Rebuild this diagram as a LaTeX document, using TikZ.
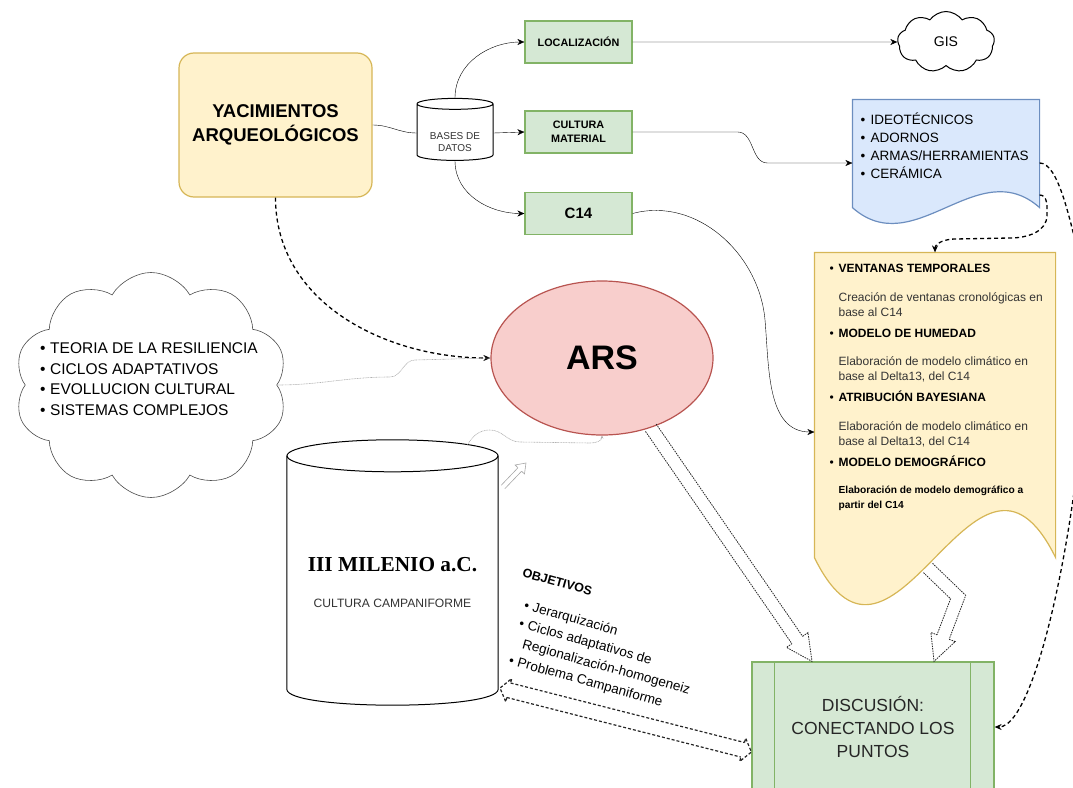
\documentclass[tikz,border=0pt]{standalone}
\usepackage{fontspec}
\setmainfont{Liberation Sans}
\newfontfamily\serifbold{Liberation Serif}
\usetikzlibrary{arrows.meta, positioning, shapes.geometric, shapes.symbols, calc}

\pgfdeclarelayer{background}
\pgfsetlayers{background,main}

\definecolor{yelfill}{HTML}{FFF2CC}
\definecolor{yelline}{HTML}{D6B656}
\definecolor{grnfill}{HTML}{D5E8D4}
\definecolor{grnline}{HTML}{82B366}
\definecolor{bluefill}{HTML}{DAE8FC}
\definecolor{blueline}{HTML}{6C8EBF}
\definecolor{redfill}{HTML}{F8CECC}
\definecolor{redline}{HTML}{B85450}

\newcommand{\ibul}[1][9pt]{\makebox[#1][l]{\textbullet}}
\newcommand{\openhead}[6][hollowline]{%
  \coordinate (hb) at ($(#3)!#4!(#2)$);
  \draw[#1] ($(hb)!#5!90:(#3)$) -- ($(hb)!#6!90:(#3)$) -- (#3)
    -- ($(hb)!#6!-90:(#3)$) -- ($(hb)!#5!-90:(#3)$);
}
\newcommand{\openshaft}[4][hollowline]{%
  \draw[#1] ($(#2)!#4!90:(#3)$) -- ($(#3)!#4!-90:(#2)$)
    ($(#2)!#4!-90:(#3)$) -- ($(#3)!#4!90:(#2)$);
}

\begin{document}
\begin{tikzpicture}[
    x=1pt, y=-1pt,
    line width=1.2pt,
    >={Stealth[length=7pt, width=6pt]},
    yacibox/.style={rectangle, rounded corners=15pt, draw=yelline, fill=yelfill,
        line width=1.2pt, minimum width=193pt, minimum height=144pt, align=center,
        font=\fontsize{18.5}{24}\selectfont\bfseries},
    greenbox/.style={rectangle, draw=grnline, fill=grnfill, line width=1.2pt,
        minimum width=107pt, minimum height=42pt, align=center,
        font=\fontsize{10.8}{14}\selectfont\bfseries},
    dbcyl/.style={cylinder, shape border rotate=90, draw, fill=white,
        line width=1pt, inner sep=1pt, align=center, text=black!80},
    docframe/.style={rectangle, inner sep=0pt},
    textlist/.style={anchor=north west, inner sep=0pt, align=left},
    dashline/.style={dash pattern=on 4pt off 3pt, line width=1.3pt},
    faint/.style={gray!60, line width=0.6pt, dash pattern=on 1pt off 0.6pt},
    hollowline/.style={black!85, line width=0.8pt, dash pattern=on 1.5pt off 1pt},
    objline/.style={black!85, line width=1.2pt, dash pattern=on 3pt off 2pt}
]

\useasboundingbox (0,0) rectangle (1073,787);

\node[yacibox] (yaci) at (275.5,125) {YACIMIENTOS\\ARQUEOLÓGICOS};
\node[dbcyl, aspect=0.21, minimum width=76pt, minimum height=62pt,
      font=\fontsize{10}{12}\selectfont] (bases) at (455,133) {\rule{0pt}{26pt}BASES DE\\DATOS};

\node[greenbox] (loc) at (578.5,42) {LOCALIZACIÓN};
\node[greenbox] (cultura) at (578.5,132) {CULTURA\\MATERIAL};
\node[greenbox, font=\fontsize{15}{18}\selectfont\bfseries] (c14) at (578.5,213.5) {C14};

\node[cloud, cloud puffs=9, cloud puff arc=110, draw, line width=1pt,
      minimum width=97pt, minimum height=61pt, font=\fontsize{14}{16}\selectfont] (gis) at (946,42) {GIS};

\node[docframe, minimum width=186pt, minimum height=126pt] (tipos) at (946,163) {};
\node[textlist, font=\fontsize{13.5}{18}\selectfont] (tiposlist) at (860,112)
    {\ibul[10pt]IDEOTÉCNICOS\\\ibul[10pt]ADORNOS\\\ibul[10pt]ARMAS/HERRAMIENTAS\\\ibul[10pt]CERÁMICA};

\node[docframe, minimum width=240pt, minimum height=358pt] (modelos) at (935,432) {};
\node[textlist, font=\fontsize{12}{15}\selectfont] (modeloslist) at (829,264) {%
    \ibul\textbf{VENTANAS TEMPORALES}\\[13.5pt]
    \hspace*{9pt}\textcolor{black!80}{Creación de ventanas cronológicas en}\\
    \hspace*{9pt}\textcolor{black!80}{base al C14}\\[6pt]
    \ibul\textbf{MODELO DE HUMEDAD}\\[13.5pt]
    \hspace*{9pt}\textcolor{black!80}{Elaboración de modelo climático en}\\
    \hspace*{9pt}\textcolor{black!80}{base al Delta13, del C14}\\[6pt]
    \ibul\textbf{ATRIBUCIÓN BAYESIANA}\\[13.5pt]
    \hspace*{9pt}\textcolor{black!80}{Elaboración de modelo climático en}\\
    \hspace*{9pt}\textcolor{black!80}{base al Delta13, del C14}\\[6pt]
    \ibul\textbf{MODELO DEMOGRÁFICO}\\[12.5pt]
    \hspace*{9pt}{\fontsize{10.2}{14}\selectfont\bfseries Elaboración de modelo demográfico a}\\[-0.5pt]
    \hspace*{9pt}{\fontsize{10.2}{14}\selectfont\bfseries partir del C14}};

\begin{pgfonlayer}{background}
\filldraw[fill=bluefill, draw=blueline, line width=1.2pt]
    (tipos.north west) -- (tipos.north east) -- ([yshift=19pt]tipos.south east)
    .. controls +(-62,-55) and +(62,55) .. ([yshift=19pt]tipos.south west) -- cycle;
\filldraw[fill=yelfill, draw=yelline, line width=1.2pt]
    (modelos.north west) -- (modelos.north east) -- ([yshift=54pt]modelos.south east)
    .. controls +(-80,-163) and +(80,163) .. ([yshift=54pt]modelos.south west) -- cycle;
\end{pgfonlayer}

\node[ellipse, draw=redline, fill=redfill, line width=1.2pt, minimum width=222pt,
      minimum height=154pt, font=\fontsize{34}{38}\selectfont\bfseries] (ars) at (602,358) {ARS};

\node[cloud, cloud puffs=10, cloud puff arc=120, draw=black!70, line width=0.6pt,
      minimum width=273pt, minimum height=225pt] (teoria) at (151,385) {};
\node[align=left, font=\fontsize{15.5}{20.5}\selectfont] (teorialist) at (149,379)
    {\ibul[10pt]TEORIA DE LA RESILIENCIA\\\ibul[10pt]CICLOS ADAPTATIVOS\\
     \ibul[10pt]EVOLLUCION CULTURAL\\\ibul[10pt]SISTEMAS COMPLEJOS};

\node[docframe, minimum width=211pt, minimum height=265pt] (milenio) at (392.5,572.5) {};
\filldraw[fill=white, line width=1pt] ([yshift=-16pt]milenio.north west) -- ([yshift=16pt]milenio.south west)
    .. controls +(0,21.3) and +(0,21.3) .. ([yshift=16pt]milenio.south east)
    -- ([yshift=-16pt]milenio.north east);
\draw[line width=1pt] ([yshift=-16pt]milenio.north) ellipse [x radius=105.5pt, y radius=16pt];
\node[font=\serifbold\fontsize{21.3}{24}\selectfont\bfseries] (miltitle) at (392.5,565) {III MILENIO a.C.};
\node[font=\fontsize{12.1}{14}\selectfont, text=black!80] (milsub) at (392.5,603) {CULTURA CAMPANIFORME};

\node[textlist, rotate=-15.5, font=\fontsize{13.5}{19}\selectfont] (objetivos) at (524,568) {%
    {\fontsize{12.5}{15}\selectfont\bfseries OBJETIVOS}\\[12pt]
    \makebox[19pt][r]{\textbullet\hspace{4pt}}Jerarquización\\
    \makebox[19pt][r]{\textbullet\hspace{4pt}}Ciclos adaptativos de\\
    \hspace*{19pt}Regionalización-homogeneiz\\
    \makebox[19pt][r]{\textbullet\hspace{4pt}}Problema Campaniforme};

\node[rectangle, draw=grnline, fill=grnfill, line width=1.2pt, minimum width=242pt,
      minimum height=130pt, align=center, text=black!85,
      font=\fontsize{17.5}{23}\selectfont] (disc) at (873,727) {DISCUSIÓN:\\CONECTANDO LOS\\PUNTOS};
\draw[grnline, line width=1.2pt] ([xshift=23pt]disc.north west) -- ([xshift=23pt]disc.south west)
    ([xshift=-24pt]disc.north east) -- ([xshift=-24pt]disc.south east);

\draw (yaci.east) to[out=0, in=180] (bases.west);
\draw[->] (bases.north) to[out=90, in=180] (loc.west);
\draw[->] (bases.east) -- (cultura.west);
\draw[->] (bases.south) to[out=-90, in=180] (c14.west);
\draw[->] (loc.east) -- (gis.west);
\draw[->] (cultura.east) -- ++(105,0) to[out=0, in=180] ++(30,31) -- (tipos.west);
\draw[->] (c14.east) to[out=15, in=95] (765,320) to[out=-85, in=180] (modelos.west);

\draw[dashline, ->] (yaci.south) to[out=-90, in=180] (ars.west);
\draw[dashline, ->] (tipos.east) .. controls (1058,163) and (1070,215) .. (1086,290) -- (1086,340)
    .. controls (1086,480) and (1040,727) .. (disc.east);
\draw[dashline, ->] ([yshift=-32pt]tipos.east) to[out=0, in=90] (1047,215) to[out=-90, in=0] (1010,238)
    -- (955,239) to[out=180, in=90] (modelos.north);

\draw[faint] (teoria.east) to[out=0, in=180] (390,377) to[out=0, in=180] (415,360) -- (ars.west);
\draw[faint, -{Stealth[length=3pt, width=3pt]}] ([xshift=75pt, yshift=-5pt]milenio.north)
    to[out=60, in=180] (490,430) to[out=0, in=180] (520,442) -- (590,443) to[out=0, in=-90] (ars.south);

% hollow arrows towards the discussion
\coordinate (s1) at (ars.-55);
\coordinate (t1) at ([xshift=-61pt]disc.north);
\openhead{s1}{t1}{26pt}{6.5pt}{13pt}
\openshaft{s1}{hb}{6.5pt}

\coordinate (s2) at (928,568);
\coordinate (b2) at (958,597);
\coordinate (t2) at ([xshift=61pt]disc.north);
\openhead{b2}{t2}{26pt}{6.5pt}{13pt}
\coordinate (s2l) at ($(s2)!6.5pt!90:(b2)$);
\coordinate (b2l1) at ($(b2)!6.5pt!-90:(s2)$);
\coordinate (b2l2) at ($(b2)!6.5pt!90:(hb)$);
\coordinate (hbl) at ($(hb)!6.5pt!-90:(b2)$);
\coordinate (s2r) at ($(s2)!6.5pt!-90:(b2)$);
\coordinate (b2r1) at ($(b2)!6.5pt!90:(s2)$);
\coordinate (b2r2) at ($(b2)!6.5pt!-90:(hb)$);
\coordinate (hbr) at ($(hb)!6.5pt!90:(b2)$);
\draw[hollowline] (s2l) -- (intersection of s2l--b2l1 and b2l2--hbl) -- (hbl)
    (s2r) -- (intersection of s2r--b2r1 and b2r2--hbr) -- (hbr);

\coordinate (o1) at (500,688);
\coordinate (o2) at ([yshift=-25pt]disc.west);
\openhead[objline]{o2}{o1}{9pt}{7.5pt}{12pt}
\coordinate (ob1) at (hb);
\openhead[objline]{o1}{o2}{9pt}{7.5pt}{12pt}
\draw[objline] ($(ob1)!7.5pt!90:(o2)$) -- ($(hb)!7.5pt!-90:(o1)$)
    ($(ob1)!7.5pt!-90:(o2)$) -- ($(hb)!7.5pt!90:(o1)$);

\coordinate (sa) at (503,487);
\coordinate (sb) at (526,463);
\openhead[gray!70, line width=0.6pt]{sa}{sb}{9pt}{2.5pt}{6.5pt}
\openshaft[gray!70, line width=0.6pt]{sa}{hb}{2.5pt}

\end{tikzpicture}
\end{document}
